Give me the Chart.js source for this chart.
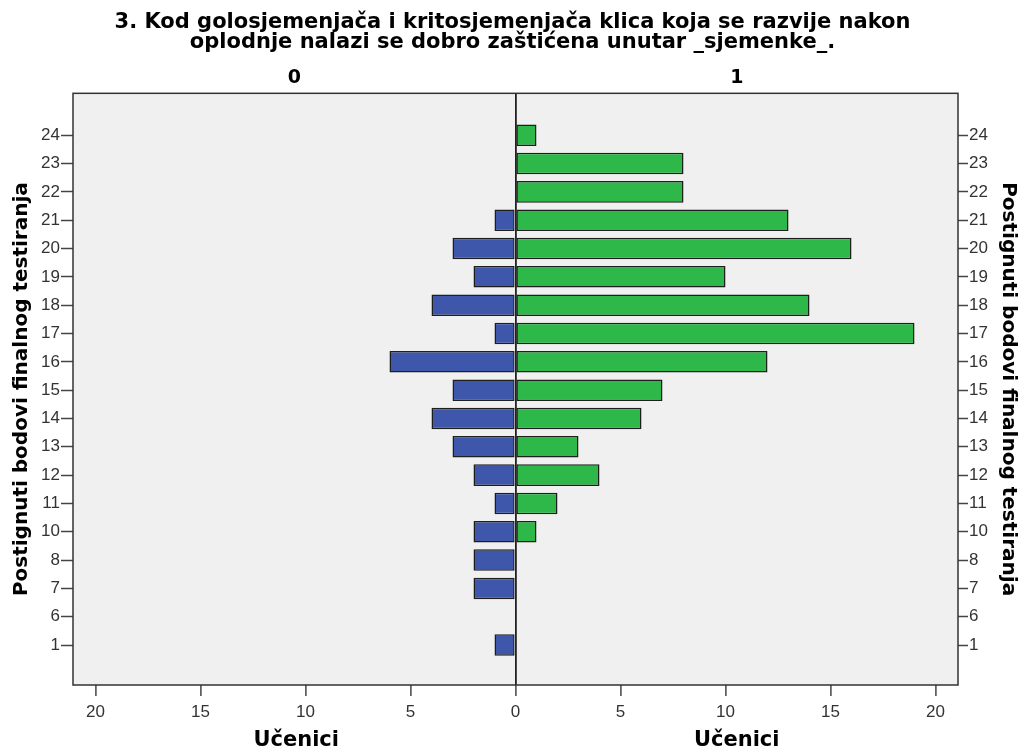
<!DOCTYPE html>
<html>
<head>
<meta charset="utf-8">
<script src="https://cdn.jsdelivr.net/npm/chart.js@4"></script>
<style>
  html, body { margin: 0; padding: 0; background: #fff; }
  #wrap { width: 1025px; height: 752px; }
</style>
</head>
<body>
<div id="wrap"><canvas id="pyramid"></canvas></div>
<script>
// bodovi (od vrha prema dnu)
const categories = ['24', '23', '22', '21', '20', '19', '18', '17', '16', '15', '14', '13', '12', '11', '10', '8', '7', '6', '1'];
// skupina 0 (lijevo) i skupina 1 (desno)
const group0 = [0, 0, 0, 1, 3, 2, 4, 1, 6, 3, 4, 3, 2, 1, 2, 2, 2, 0, 1];
const group1 = [1, 8, 8, 13, 16, 10, 14, 19, 12, 7, 6, 3, 4, 2, 1, 0, 0, 0, 0];
const xTicks = [-20, -15, -10, -5, 0, 5, 10, 15, 20];
const groupLabels = ['0', '1'];
const titleLines = ['3. Kod golosjemenjača i kritosjemenjača klica koja se razvije nakon', 'oplodnje nalazi se dobro zaštićena unutar _sjemenke_.'];
const xTitle = 'Učenici';
const yTitle = 'Postignuti bodovi finalnog testiranja';

const FONT = '"DejaVu Sans", sans-serif';
const TICK_FONT = '"Liberation Sans", Arial, sans-serif';

// pozadina, okvir, naslovi skupina i osi x
const pyramidDecor = {
    id: 'pyramidDecor',
    beforeDraw(chart) {
        const { ctx, chartArea: a } = chart;
        ctx.save();
        ctx.fillStyle = '#f0f0f0';
        ctx.fillRect(a.left, a.top, a.right - a.left, a.bottom - a.top);
        ctx.restore();
    },
    afterDraw(chart) {
        const { ctx, chartArea: a } = chart;
        const x = chart.scales.x;
        const mid = x.getPixelForValue(0);
        const leftC = (a.left + mid) / 2;
        const rightC = (mid + a.right) / 2;
        ctx.save();
        ctx.strokeStyle = '#333';
        ctx.lineWidth = 1.5;
        ctx.strokeRect(a.left, a.top, a.right - a.left, a.bottom - a.top);
        ctx.fillStyle = '#000';
        ctx.textAlign = 'center';
        ctx.textBaseline = 'middle';
        ctx.font = 'bold 19px ' + FONT;
        ctx.fillText(groupLabels[0], leftC, 78);
        ctx.fillText(groupLabels[1], rightC, 78);
        ctx.font = 'bold 21px ' + FONT;
        ctx.fillText(xTitle, leftC + 2, 741);
        ctx.fillText(xTitle, rightC, 741);
        ctx.restore();
    }
};

function yScale(position) {
    const isLeft = position === 'left';
    return {
        type: 'linear',
        position,
        reverse: true,
        offset: false,
        min: -1.48,
        max: 19.41,
        stacked: true,
        afterBuildTicks: s => { s.ticks = categories.map((_, i) => ({ value: i })); },
        afterFit: s => { s.width = isLeft ? 73 : 67; },
        grid: {
            offset: false,
            drawOnChartArea: false,
            tickColor: '#444',
            tickLength: isLeft ? 12 : 10,
            tickWidth: 1.5
        },
        border: { display: false },
        ticks: {
            color: '#333',
            padding: 1,
            font: { family: TICK_FONT, size: 17 },
            callback: v => categories[v]
        },
        title: {
            display: true,
            text: yTitle,
            color: '#000',
            padding: { top: isLeft ? 10 : 5, bottom: 0 },
            font: { family: FONT, size: 20, weight: 'bold' }
        }
    };
}

new Chart(document.getElementById('pyramid'), {
    type: 'bar',
    data: {
        datasets: [
            {
                label: groupLabels[0],
                data: group0.map((v, i) => ({ x: v ? -v : null, y: i })),
                backgroundColor: '#3e57aa',
                borderColor: '#1e1e1e',
                borderWidth: 1.5,
                borderSkipped: false,
                yAxisID: 'y'
            },
            {
                label: groupLabels[1],
                data: group1.map((v, i) => ({ x: v ? v : null, y: i })),
                backgroundColor: '#2eb84a',
                borderColor: '#1e1e1e',
                borderWidth: 1.5,
                borderSkipped: false,
                yAxisID: 'y'
            }
        ]
    },
    options: {
        indexAxis: 'y',
        responsive: true,
        maintainAspectRatio: false,
        animation: false,
        layout: { padding: 0 },
        datasets: { bar: { categoryPercentage: 1, barPercentage: 0.76 } },
        scales: {
            x: {
                type: 'linear',
                min: -21.07,
                max: 21.07,
                stacked: true,
                afterBuildTicks: s => { s.ticks = xTicks.map(v => ({ value: v })); },
                afterFit: s => { s.height = 67; },
                grid: {
                    color: c => (c.tick && c.tick.value === 0 ? '#222' : 'rgba(0,0,0,0)'),
                    lineWidth: 1.8,
                    tickColor: '#444',
                    tickLength: 11,
                    tickWidth: 1.5
                },
                border: { display: false },
                ticks: {
                    color: '#333',
                    padding: 6,
                    font: { family: TICK_FONT, size: 17 },
                    callback: v => Math.abs(v)
                }
            },
            y: yScale('left'),
            y2: yScale('right')
        },
        plugins: {
            legend: { display: false },
            tooltip: { enabled: false },
            title: {
                display: true,
                text: titleLines,
                color: '#000',
                padding: { top: 12, bottom: 41 },
                font: { family: FONT, size: 21, weight: 'bold', lineHeight: 0.96 }
            }
        }
    },
    plugins: [pyramidDecor]
});
</script>
</body>
</html>
